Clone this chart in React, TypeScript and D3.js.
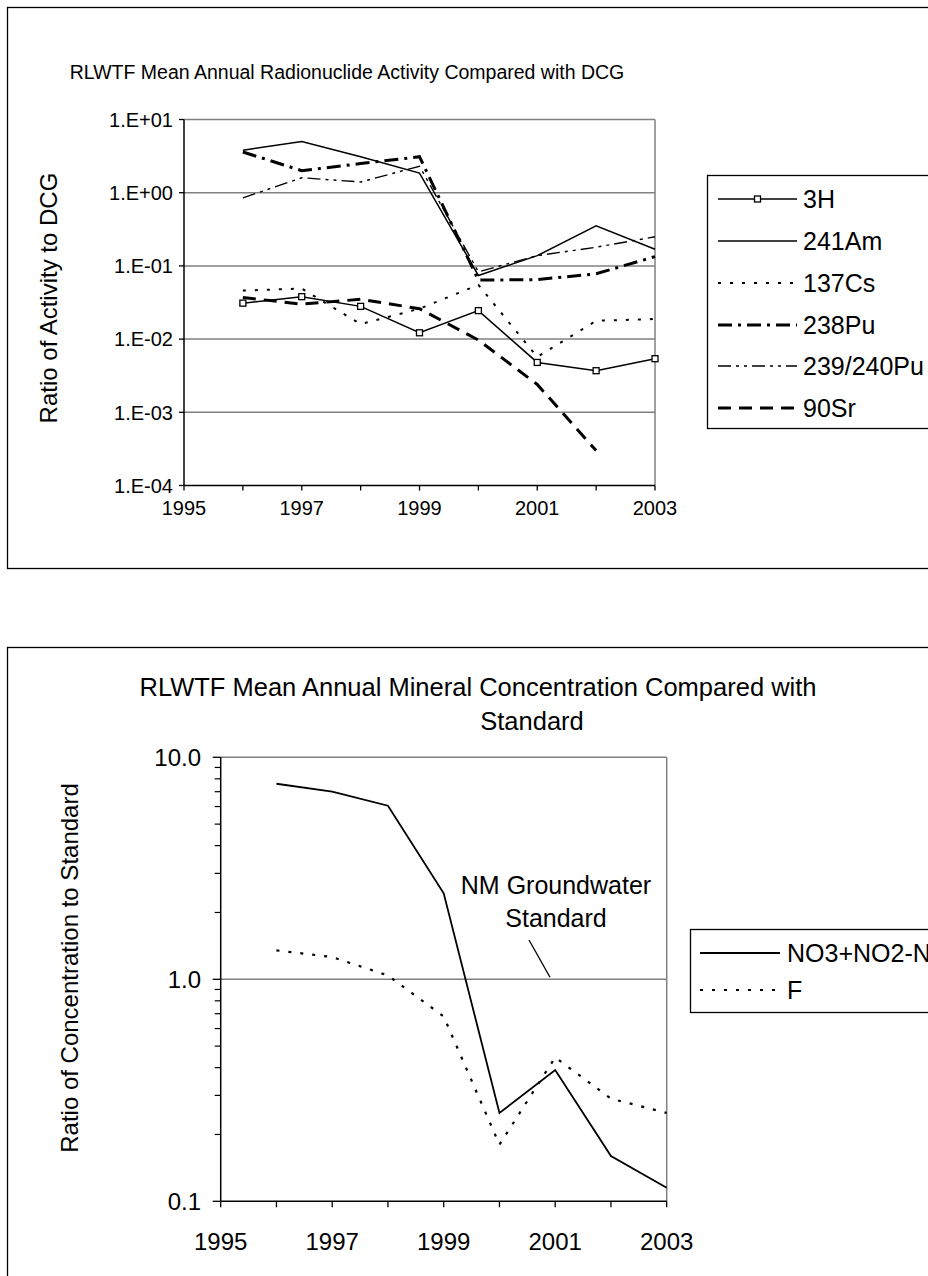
import { useRef, useEffect } from "react";
import * as d3 from "d3";

// ---- top chart data (ratio of activity to DCG) ----
const years = [1996, 1997, 1998, 1999, 2000, 2001, 2002, 2003];
const h3 = [0.031, 0.038, 0.028, 0.0122, 0.0245, 0.0048, 0.0037, 0.0054];
const am241 = [3.8, 5.0, 3.1, 1.85, 0.074, 0.138, 0.354, 0.169];
const cs137 = [0.046, 0.049, 0.016, 0.026, 0.055, 0.0057, 0.0178, 0.0188];
const pu238 = [3.6, 2.0, 2.5, 3.1, 0.064, 0.065, 0.078, 0.134];
const pu239 = [0.85, 1.6, 1.4, 2.3, 0.083, 0.138, 0.18, 0.25];
const sr90 = [0.037, 0.03, 0.035, 0.026, 0.0097, 0.0024, 0.0003, NaN];

const topTickValues = [1e-4, 1e-3, 1e-2, 1e-1, 1, 10];
const topTickLabels = ["1.E-04", "1.E-03", "1.E-02", "1.E-01", "1.E+00", "1.E+01"];

// ---- bottom chart data (ratio of concentration to standard) ----
const no3 = [7.6, 7.0, 6.05, 2.44, 0.25, 0.39, 0.16, 0.115];
const fluoride = [1.35, 1.26, 1.04, 0.68, 0.18, 0.445, 0.29, 0.25];

const botTickValues = [0.1, 1, 10];
const botTickLabels = ["0.1", "1.0", "10.0"];

const xTickYears = [1995, 1996, 1997, 1998, 1999, 2000, 2001, 2002, 2003];
const xLabelYears = [1995, 1997, 1999, 2001, 2003];

interface SeriesDef {
    name: string;
    values: number[];
    width: number;
    dash: string;
    marker?: boolean;
}

const topSeries: SeriesDef[] = [
    { name: "3H", values: h3, width: 1.5, dash: "", marker: true },
    { name: "241Am", values: am241, width: 1.5, dash: "" },
    { name: "137Cs", values: cs137, width: 2, dash: "3,9" },
    { name: "238Pu", values: pu238, width: 3, dash: "14,6,3,6" },
    { name: "239/240Pu", values: pu239, width: 1.4, dash: "13,5,3,5,3,5" },
    { name: "90Sr", values: sr90, width: 3, dash: "13,8" },
];

const botSeries: SeriesDef[] = [
    { name: "NO3+NO2-N", values: no3, width: 1.8, dash: "" },
    { name: "F", values: fluoride, width: 2.2, dash: "3,9" },
];

const FONT = "'Liberation Sans', Arial, sans-serif";
const GRID = "#808080";

const Charts: React.FC = () => {
    const svgRef = useRef<SVGSVGElement | null>(null);

    useEffect(() => {
        if (!svgRef.current) return;
        const svg = d3.select(svgRef.current);
        svg.selectAll("*").remove();
        svg.attr("font-family", FONT);

        const drawSeries = (
            g: d3.Selection<SVGGElement, unknown, null, undefined>,
            series: SeriesDef[],
            x: d3.ScaleLinear<number, number>,
            y: d3.ScaleLogarithmic<number, number>,
        ) => {
            const line = d3
                .line<number>()
                .defined((d) => !isNaN(d))
                .x((_d, i) => x(years[i]))
                .y((d) => y(d));
            series.forEach((s) => {
                g.append("path")
                    .attr("d", line(s.values))
                    .attr("fill", "none")
                    .attr("stroke", "#000")
                    .attr("stroke-width", s.width)
                    .attr("stroke-dasharray", s.dash || null);
                if (s.marker) {
                    g.selectAll(null)
                        .data(s.values)
                        .join("rect")
                        .attr("x", (_d, i) => x(years[i]) - 3)
                        .attr("y", (d) => y(d) - 3)
                        .attr("width", 6)
                        .attr("height", 6)
                        .attr("fill", "#fff")
                        .attr("stroke", "#000")
                        .attr("stroke-width", 1.3);
                }
            });
        };

        const drawLegend = (
            g: d3.Selection<SVGGElement, unknown, null, undefined>,
            series: SeriesDef[],
            box: { x: number; y: number; w: number; h: number },
            rowY: number[],
            lx: [number, number],
            tx: number,
            fs: number,
        ) => {
            g.append("rect")
                .attr("x", box.x)
                .attr("y", box.y)
                .attr("width", box.w)
                .attr("height", box.h)
                .attr("fill", "#fff")
                .attr("stroke", "#000")
                .attr("stroke-width", 1.3);
            series.forEach((s, i) => {
                const yy = rowY[i];
                g.append("line")
                    .attr("x1", lx[0])
                    .attr("x2", lx[1])
                    .attr("y1", yy)
                    .attr("y2", yy)
                    .attr("stroke", "#000")
                    .attr("stroke-width", s.width)
                    .attr("stroke-dasharray", s.dash || null);
                if (s.marker) {
                    g.append("rect")
                        .attr("x", (lx[0] + lx[1]) / 2 - 3)
                        .attr("y", yy - 3)
                        .attr("width", 6)
                        .attr("height", 6)
                        .attr("fill", "#fff")
                        .attr("stroke", "#000")
                        .attr("stroke-width", 1.3);
                }
                g.append("text")
                    .attr("x", tx)
                    .attr("y", yy)
                    .attr("dy", "0.36em")
                    .attr("font-size", fs)
                    .text(s.name);
            });
        };

        // ================= TOP CHART =================
        const top = svg.append("g");
        top.append("rect")
            .attr("x", 7.5)
            .attr("y", 7.5)
            .attr("width", 960)
            .attr("height", 561)
            .attr("fill", "#fff")
            .attr("stroke", "#000")
            .attr("stroke-width", 1.3);

        const xT = d3.scaleLinear().domain([1995, 2003]).range([184, 655]);
        const yT = d3.scaleLog().domain([1e-4, 10]).range([485.5, 119.5]);

        top.append("text")
            .attr("x", 347)
            .attr("y", 79)
            .attr("text-anchor", "middle")
            .attr("font-size", 19.5)
            .text("RLWTF Mean Annual Radionuclide Activity Compared with DCG");

        // gridlines
        top.selectAll(null)
            .data(topTickValues.slice(1))
            .join("line")
            .attr("x1", xT(1995))
            .attr("x2", xT(2003))
            .attr("y1", (d) => yT(d))
            .attr("y2", (d) => yT(d))
            .attr("stroke", GRID)
            .attr("stroke-width", 1.5);
        top.append("line")
            .attr("x1", xT(2003))
            .attr("x2", xT(2003))
            .attr("y1", yT(10))
            .attr("y2", yT(1e-4))
            .attr("stroke", GRID)
            .attr("stroke-width", 1.5);

        drawSeries(top, topSeries, xT, yT);

        // axes
        top.append("line")
            .attr("x1", xT(1995))
            .attr("x2", xT(1995))
            .attr("y1", yT(10))
            .attr("y2", yT(1e-4))
            .attr("stroke", "#000")
            .attr("stroke-width", 1.5);
        top.append("line")
            .attr("x1", xT(1995))
            .attr("x2", xT(2003))
            .attr("y1", yT(1e-4))
            .attr("y2", yT(1e-4))
            .attr("stroke", "#000")
            .attr("stroke-width", 1.5);
        top.selectAll(null)
            .data(topTickValues)
            .join("line")
            .attr("x1", xT(1995) - 5)
            .attr("x2", xT(1995))
            .attr("y1", (d) => yT(d))
            .attr("y2", (d) => yT(d))
            .attr("stroke", "#000")
            .attr("stroke-width", 1.3);
        top.selectAll(null)
            .data(topTickValues)
            .join("text")
            .attr("x", 173)
            .attr("y", (d) => yT(d))
            .attr("dy", "0.36em")
            .attr("text-anchor", "end")
            .attr("font-size", 20)
            .text((_d, i) => topTickLabels[i]);
        top.selectAll(null)
            .data(xTickYears)
            .join("line")
            .attr("x1", (d) => xT(d))
            .attr("x2", (d) => xT(d))
            .attr("y1", yT(1e-4))
            .attr("y2", yT(1e-4) + 5)
            .attr("stroke", "#000")
            .attr("stroke-width", 1.3);
        top.selectAll(null)
            .data(xLabelYears)
            .join("text")
            .attr("x", (d) => xT(d))
            .attr("y", 515)
            .attr("text-anchor", "middle")
            .attr("font-size", 20)
            .text((d) => String(d));

        top.append("text")
            .attr("transform", `translate(57,298) rotate(-90)`)
            .attr("text-anchor", "middle")
            .attr("font-size", 24)
            .text("Ratio of Activity to DCG");

        drawLegend(
            top,
            topSeries,
            { x: 707.5, y: 175.5, w: 260, h: 253 },
            [199, 241, 283, 325, 366, 408],
            [718, 797],
            803,
            25,
        );

        // ================= BOTTOM CHART =================
        const bot = svg.append("g");
        bot.append("rect")
            .attr("x", 7.5)
            .attr("y", 647.5)
            .attr("width", 960)
            .attr("height", 660)
            .attr("fill", "#fff")
            .attr("stroke", "#000")
            .attr("stroke-width", 1.3);

        const xB = d3.scaleLinear().domain([1995, 2003]).range([220.7, 666.7]);
        const yB = d3.scaleLog().domain([0.1, 10]).range([1201.3, 757.3]);

        const titleLines = ["RLWTF Mean Annual Mineral Concentration Compared with", "Standard"];
        const titleX = [478, 532];
        bot.append("text")
            .attr("text-anchor", "middle")
            .attr("font-size", 25.5)
            .selectAll("tspan")
            .data(titleLines)
            .join("tspan")
            .attr("x", (_d, i) => titleX[i])
            .attr("y", (_d, i) => 696 + i * 34)
            .text((d) => d);

        bot.selectAll(null)
            .data([1, 10])
            .join("line")
            .attr("x1", xB(1995))
            .attr("x2", xB(2003))
            .attr("y1", (d) => yB(d))
            .attr("y2", (d) => yB(d))
            .attr("stroke", GRID)
            .attr("stroke-width", 1.5);
        bot.append("line")
            .attr("x1", xB(2003))
            .attr("x2", xB(2003))
            .attr("y1", yB(10))
            .attr("y2", yB(0.1))
            .attr("stroke", GRID)
            .attr("stroke-width", 1.5);

        drawSeries(bot, botSeries, xB, yB);

        bot.append("line")
            .attr("x1", xB(1995))
            .attr("x2", xB(1995))
            .attr("y1", yB(10))
            .attr("y2", yB(0.1))
            .attr("stroke", "#000")
            .attr("stroke-width", 1.5);
        bot.append("line")
            .attr("x1", xB(1995))
            .attr("x2", xB(2003))
            .attr("y1", yB(0.1))
            .attr("y2", yB(0.1))
            .attr("stroke", "#000")
            .attr("stroke-width", 1.5);

        const minor = yB.ticks().filter((t) => !botTickValues.includes(t));
        bot.selectAll(null)
            .data(minor)
            .join("line")
            .attr("x1", xB(1995) - 6)
            .attr("x2", xB(1995))
            .attr("y1", (d) => yB(d))
            .attr("y2", (d) => yB(d))
            .attr("stroke", "#000")
            .attr("stroke-width", 1.2);
        bot.selectAll(null)
            .data(botTickValues)
            .join("line")
            .attr("x1", xB(1995) - 8)
            .attr("x2", xB(1995))
            .attr("y1", (d) => yB(d))
            .attr("y2", (d) => yB(d))
            .attr("stroke", "#000")
            .attr("stroke-width", 1.3);
        bot.selectAll(null)
            .data(botTickValues)
            .join("text")
            .attr("x", 201)
            .attr("y", (d) => yB(d))
            .attr("dy", "0.36em")
            .attr("text-anchor", "end")
            .attr("font-size", 24)
            .text((_d, i) => botTickLabels[i]);
        bot.selectAll(null)
            .data(xTickYears)
            .join("line")
            .attr("x1", (d) => xB(d))
            .attr("x2", (d) => xB(d))
            .attr("y1", yB(0.1))
            .attr("y2", yB(0.1) + 6)
            .attr("stroke", "#000")
            .attr("stroke-width", 1.3);
        bot.selectAll(null)
            .data(xLabelYears)
            .join("text")
            .attr("x", (d) => xB(d))
            .attr("y", 1250)
            .attr("text-anchor", "middle")
            .attr("font-size", 24)
            .text((d) => String(d));

        bot.append("text")
            .attr("transform", `translate(78,968) rotate(-90)`)
            .attr("text-anchor", "middle")
            .attr("font-size", 24)
            .text("Ratio of Concentration to Standard");

        // standard annotation
        bot.append("text")
            .attr("text-anchor", "middle")
            .attr("font-size", 25)
            .selectAll("tspan")
            .data(["NM Groundwater", "Standard"])
            .join("tspan")
            .attr("x", 556)
            .attr("y", (_d, i) => 894 + i * 33)
            .text((d) => d);
        bot.append("line")
            .attr("x1", 529)
            .attr("y1", 940)
            .attr("x2", 550)
            .attr("y2", yB(1) - 2)
            .attr("stroke", "#000")
            .attr("stroke-width", 1.3);

        drawLegend(
            bot,
            botSeries,
            { x: 690.5, y: 929.5, w: 260, h: 83 },
            [953, 990],
            [700, 780],
            787,
            25,
        );
    }, []);

    return (
        <svg
            ref={svgRef}
            width={928}
            height={1276}
            style={{ position: "absolute", left: 0, top: 0, background: "#fff" }}
        />
    );
};

export default function App() {
    return <Charts />;
}
